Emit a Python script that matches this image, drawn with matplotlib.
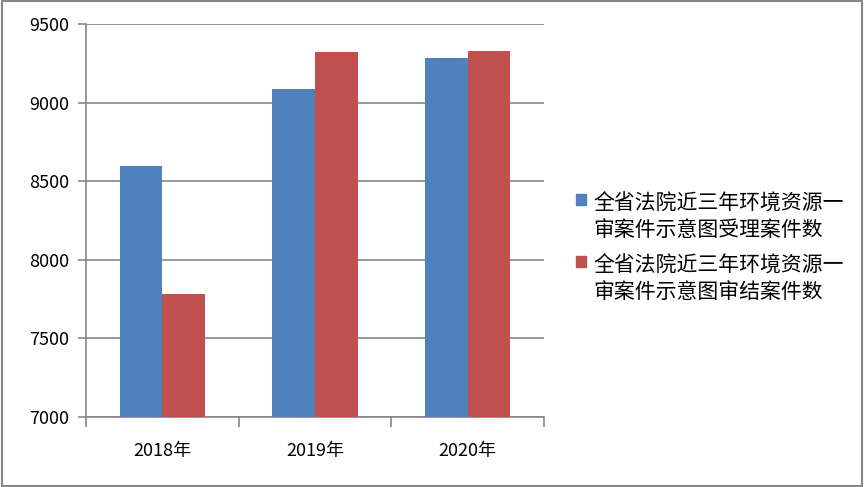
import numpy as np
import matplotlib.pyplot as plt
from matplotlib.patches import Rectangle

plt.rcParams['font.family'] = ['Noto Sans CJK SC', 'DejaVu Sans']

# Data
years = ['2018年', '2019年', '2020年']
accepted = [8598, 9084, 9283]   # 受理案件数
concluded = [7782, 9322, 9328]  # 审结案件数
series_names = ['全省法院近三年环境资源一\n审案件示意图受理案件数',
                '全省法院近三年环境资源一\n审案件示意图审结案件数']
y_ticks = [7000, 7500, 8000, 8500, 9000, 9500]

blue = '#4F81BD'
red = '#C0504D'
grey = '#868686'
W, H = 864, 487

fig = plt.figure(figsize=(W / 100, H / 100), dpi=100)
ax = fig.add_axes([0.0995, 0.1437, 0.530, 0.807])

x = np.arange(len(years))
w = 0.28
ax.bar(x - w / 2, accepted, w, color=blue, zorder=3)
ax.bar(x + w / 2, concluded, w, color=red, zorder=3)

ax.set_xlim(-0.5, len(years) - 0.5)
ax.set_ylim(7000, 9500)
ax.set_yticks(y_ticks)
ax.yaxis.grid(True, color=grey, linewidth=1.2, zorder=0)

# category labels in the middle, tick marks on the boundaries
ax.set_xticks(x)
ax.set_xticklabels(years, fontsize=13)
ax.tick_params(axis='x', length=0, pad=18)
ax.set_xticks(np.arange(-0.5, len(years)), minor=True)
ax.tick_params(axis='x', which='minor', length=7, color=grey, width=1.2)
ax.tick_params(axis='y', length=6, color=grey, width=1.2, labelsize=13, pad=6)

for side in ['top', 'right']:
    ax.spines[side].set_visible(False)
for side in ['left', 'bottom']:
    ax.spines[side].set_color(grey)
    ax.spines[side].set_linewidth(1.2)

# legend drawn by hand: marker sits beside the first line of each entry
for i, (name, col) in enumerate(zip(series_names, [blue, red])):
    first_line = 200 + i * 62
    fig.patches.append(Rectangle((576 / W, 1 - (first_line + 5) / H), 10 / W, 11 / H,
                                 transform=fig.transFigure, color=col))
    fig.text(593 / W, 1 - (first_line - 7) / H, name, fontsize=15, va='top',
             ha='left', linespacing=1.22)

# grey frame around the whole figure
fig.patches.append(Rectangle((0.002, 0.003), 0.996, 0.994, transform=fig.transFigure,
                             fill=False, edgecolor=grey, linewidth=1.5))

fig.savefig('out.png', dpi=100)
